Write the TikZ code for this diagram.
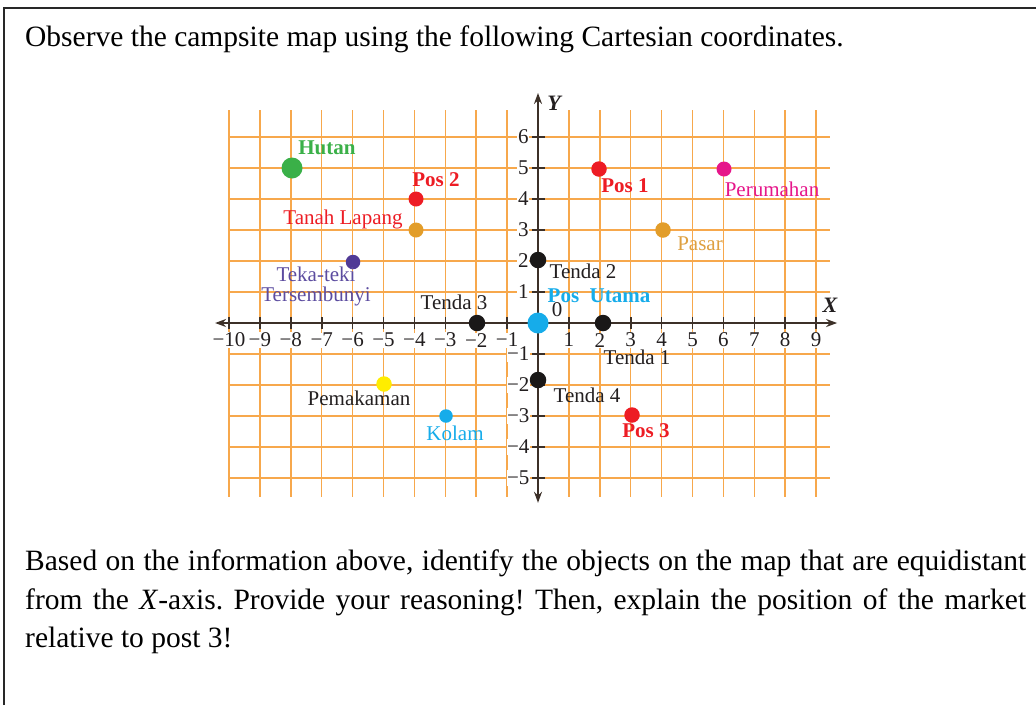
\documentclass[tikz,border=0pt]{standalone}
\usepackage{fontspec}
\setmainfont{Liberation Serif}
\usetikzlibrary{arrows.meta}
\definecolor{gridor}{RGB}{247,168,76}
\definecolor{axiscol}{RGB}{60,48,40}
\definecolor{txtblack}{RGB}{35,31,32}
\definecolor{cgreen}{RGB}{58,176,72}
\definecolor{cred}{RGB}{237,28,36}
\definecolor{cgold}{RGB}{226,157,42}
\definecolor{cgoldtxt}{RGB}{222,160,64}
\definecolor{cpurple}{RGB}{80,58,150}
\definecolor{cpurpletxt}{RGB}{92,76,160}
\definecolor{ccyan}{RGB}{22,172,234}
\definecolor{cmagenta}{RGB}{230,22,138}
\definecolor{cyellow}{RGB}{255,237,0}
\definecolor{cblack}{RGB}{26,24,24}
\definecolor{framecol}{RGB}{40,40,40}
\frenchspacing
\begin{document}
\begin{tikzpicture}[x=1pt,y=-1pt,
  frameline/.style={line width=2pt, draw=framecol},
  gridline/.style={line width=1.5pt, draw=gridor},
  axisline/.style={line width=2pt, draw=axiscol, {Stealth[length=11pt,width=8pt]}-{Stealth[length=11pt,width=8pt]}},
  tickline/.style={line width=1.6pt, draw=axiscol},
  ticklab/.style={font=\fontsize{21}{21}\selectfont, text=txtblack, fill=white, inner sep=0.6pt},
  axlab/.style={font=\fontsize{22}{22}\selectfont\bfseries\itshape, text=txtblack, inner sep=0pt},
  dot/.style={circle, inner sep=0pt, draw=none},
  lab/.style={font=\fontsize{21}{21}\selectfont, inner sep=0pt},
  blab/.style={font=\fontsize{21}{21}\selectfont\bfseries, inner sep=0pt},
  bodytext/.style={font=\fontsize{29.5}{38.5}\selectfont, inner sep=0pt, text=black}
]
\useasboundingbox[fill=white] (0,0) rectangle (1036,705);
\draw[frameline] (4,705) -- (4,8) -- (1036,8);

\node[bodytext, anchor=base west] (title) at (25,46) {Observe the campsite map using the following Cartesian coordinates.};

\node[bodytext, anchor=north west, text width=1001pt, align=justify] (question) at (25,550)
 {Based on the information above, identify the objects on the map that are equidistant\linebreak
  from the \textit{X}-axis. Provide your reasoning! Then, explain the position of the market\linebreak
  relative to post 3!};

\begin{scope}[shift={(538,323)}, x=30.9pt, y=31pt]
  \foreach \i in {-10,...,9} \draw[gridline] (\i,-5.6) -- (\i,6.87);
  \foreach \j in {-5,...,6} \draw[gridline] (-10,\j) -- (9.45,\j);
  \coordinate (xl) at (-10.45,0);
  \coordinate (xr) at (9.68,0);
  \coordinate (yb) at (0,-5.8);
  \coordinate (yt) at (0,7.42);
  \draw[axisline] (xl) -- (xr);
  \draw[axisline] (yb) -- (yt);
  \foreach \i in {-10,-9,...,-1,1,2,...,9} {
    \draw[tickline] (\i,-0.19) -- (\i,0.19);
  }
  \foreach \j in {-5,-4,...,-1,1,2,...,6} {
    \draw[tickline] (-0.19,\j) -- (0.23,\j);
  }
  \foreach \j in {-5,...,-1} \node[ticklab, anchor=east] (yt\j) at (-0.25,\j) {−\the\numexpr-\j\relax};
  \foreach \j in {1,...,6} \node[ticklab, anchor=east] (yt\j) at (-0.28,\j) {\j};
  \foreach \i in {-10,-9,...,-1} \node[ticklab] (xt\i) at (\i,-0.55) {−\the\numexpr-\i\relax};
  \foreach \i in {1,...,9} \node[ticklab] (xt\i) at (\i,-0.55) {\i};
\end{scope}

\node[axlab] (Ylab) at (554,103) {Y};
\node[axlab] (Xlab) at (830,305) {X};
\node[lab, text=txtblack] (zero) at (557,310) {0};

% dots
\node[dot, fill=cgreen, minimum size=21pt] (hutan) at (292,168) {};
\node[dot, fill=cred, minimum size=15pt] (pos2) at (416,199) {};
\node[dot, fill=cgold, minimum size=15pt] (tanah) at (416,230) {};
\node[dot, fill=cpurple, minimum size=14.5pt] (teka) at (353,262) {};
\node[dot, fill=cblack, minimum size=16.5pt] (tenda3) at (477,323) {};
\node[dot, fill=ccyan, minimum size=21pt] (posutama) at (538,323) {};
\node[dot, fill=cblack, minimum size=16.5pt] (tenda2) at (538,260) {};
\node[dot, fill=cblack, minimum size=16.5pt] (tenda1) at (603,323) {};
\node[dot, fill=cblack, minimum size=16.5pt] (tenda4) at (538,380) {};
\node[dot, fill=cred, minimum size=15.5pt] (pos1) at (599,169) {};
\node[dot, fill=cmagenta, minimum size=15pt] (perumahan) at (724,169) {};
\node[dot, fill=cgold, minimum size=15.5pt] (pasar) at (663,230) {};
\node[dot, fill=cyellow, minimum size=15.5pt] (pemakaman) at (384,384) {};
\node[dot, fill=ccyan, minimum size=13.5pt] (kolam) at (446,416) {};
\node[dot, fill=cred, minimum size=15.5pt] (pos3) at (632,415) {};

% labels
\node[blab, text=cgreen] (hutanL) at (327,148) {Hutan};
\node[blab, text=cred] (pos2L) at (436,180) {Pos 2};
\node[lab, text=cred] (tanahL) at (343,219) {Tanah Lapang};
\node[lab, text=cpurpletxt, align=center] (tekaL) at (316,286) {Teka-teki\\[-1pt]Tersembunyi};
\node[lab, text=txtblack] (tenda3L) at (454,302) {Tenda 3};
\node[blab, text=ccyan] (posutamaL) at (599,296) {Pos\ \ Utama};
\node[lab, text=txtblack] (tenda2L) at (583,271) {Tenda 2};
\node[blab, text=cred] (pos1L) at (625,186) {Pos 1};
\node[lab, text=cmagenta] (perumahanL) at (772,189) {Perumahan};
\node[lab, text=cgoldtxt] (pasarL) at (700,244) {Pasar};
\node[lab, text=txtblack] (tenda1L) at (637,357) {Tenda 1};
\node[lab, text=txtblack] (tenda4L) at (587,395) {Tenda 4};
\node[lab, text=txtblack] (pemakamanL) at (359,398) {Pemakaman};
\node[lab, text=ccyan] (kolamL) at (455,433) {Kolam};
\node[blab, text=cred] (pos3L) at (646,431) {Pos 3};
\end{tikzpicture}
\end{document}
